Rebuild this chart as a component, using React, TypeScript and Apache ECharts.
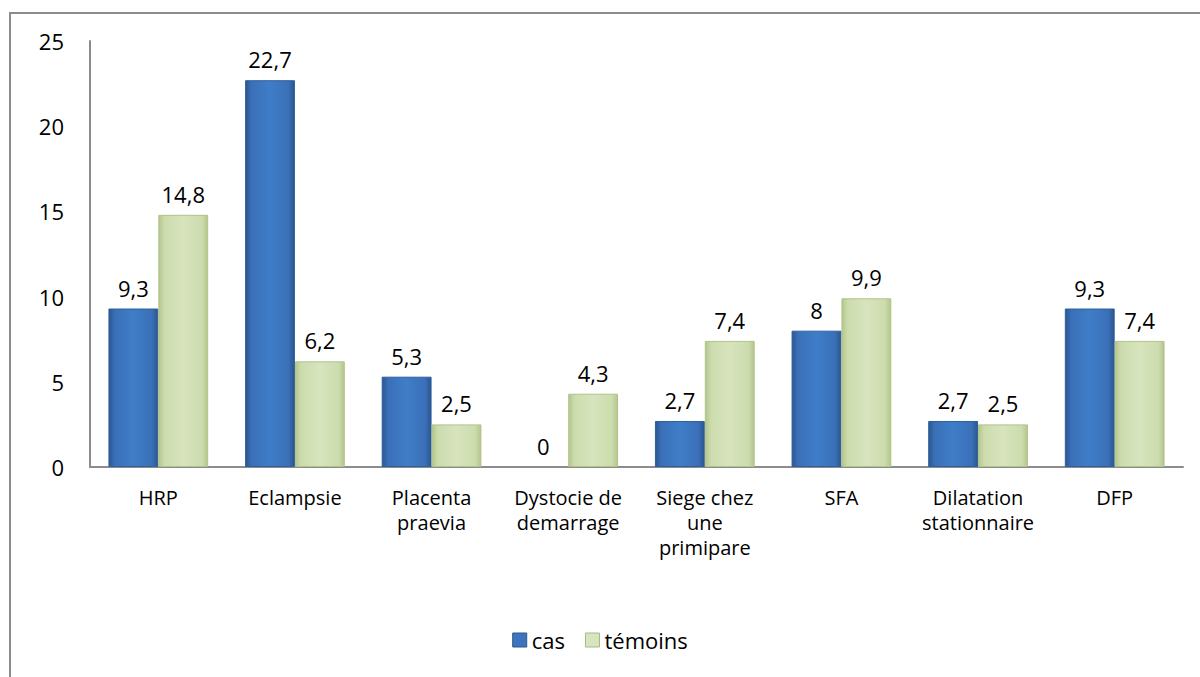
import React, { useEffect, useRef } from "react";
import * as echarts from "echarts";

const categories = [
  "HRP",
  "Eclampsie",
  "Placenta\npraevia",
  "Dystocie de\ndemarrage",
  "Siege chez\nune\nprimipare",
  "SFA",
  "Dilatation\nstationnaire",
  "DFP",
];
const casValues = [9.3, 22.7, 5.3, 0, 2.7, 8, 2.7, 9.3];
const temoinsValues = [14.8, 6.2, 2.5, 4.3, 7.4, 9.9, 2.5, 7.4];
const seriesNames = ["cas", "témoins"];
const yTicks = { min: 0, max: 25, interval: 5 };

const FONT = "'Open Sans', Lato, sans-serif";

const blueGrad = new echarts.graphic.LinearGradient(0, 0, 1, 0, [
  { offset: 0, color: "#2a568f" },
  { offset: 0.12, color: "#3a70b8" },
  { offset: 0.5, color: "#3f7dc8" },
  { offset: 0.88, color: "#3a70b8" },
  { offset: 1, color: "#2a568f" },
]);
const greenGrad = new echarts.graphic.LinearGradient(0, 0, 1, 0, [
  { offset: 0, color: "#b4c68c" },
  { offset: 0.12, color: "#cddcae" },
  { offset: 0.5, color: "#d7e4bd" },
  { offset: 0.88, color: "#cddcae" },
  { offset: 1, color: "#b4c68c" },
]);

const fmt = (p: any) => String(p.value).replace(".", ",");
const withZero = (arr: number[]) =>
  arr.map((v) =>
    v === 0 ? { value: v, itemStyle: { borderWidth: 0, color: "rgba(0,0,0,0)" } } : v
  );

const labelStyle = {
  show: true,
  position: "top",
  distance: 10,
  fontSize: 22,
  color: "#000",
  fontFamily: FONT,
  formatter: fmt,
};

export default function App() {
  const ref = useRef<HTMLDivElement>(null);
  useEffect(() => {
    document.body.style.margin = "0";
    const chart = echarts.init(ref.current!, null, { renderer: "svg" });
    chart.setOption({
      animation: false,
      backgroundColor: "#ffffff",
      textStyle: { fontFamily: FONT },
      graphic: [
        {
          type: "rect",
          shape: { x: 10, y: 13, width: 1300, height: 800 },
          style: { fill: "none", stroke: "#8c8c8c", lineWidth: 2 },
          silent: true,
        },
      ],
      grid: { left: 90, right: 17, top: 41, bottom: 210, containLabel: false },
      legend: {
        bottom: 21,
        left: "center",
        itemWidth: 14,
        itemHeight: 14,
        itemGap: 20,
        icon: "rect",
        textStyle: { fontSize: 22, color: "#000", fontFamily: FONT },
        data: [
          { name: seriesNames[0], itemStyle: { color: "#3c74bd", borderColor: "#2a568f", borderWidth: 1 } },
          { name: seriesNames[1], itemStyle: { color: "#d7e4bd", borderColor: "#a8b883", borderWidth: 1 } },
        ],
      },
      xAxis: {
        type: "category",
        data: categories,
        axisLine: { lineStyle: { color: "#8c8c8c", width: 2 } },
        axisTick: { show: false },
        axisLabel: {
          color: "#000",
          fontSize: 20,
          lineHeight: 25,
          margin: 18,
          interval: 0,
          fontFamily: FONT,
        },
      },
      yAxis: {
        type: "value",
        min: yTicks.min,
        max: yTicks.max,
        interval: yTicks.interval,
        splitLine: { show: false },
        axisLine: { show: true, lineStyle: { color: "#8c8c8c", width: 2 } },
        axisTick: { show: false },
        axisLabel: { color: "#000", fontSize: 22, margin: 26, fontFamily: FONT },
      },
      series: [
        {
          name: seriesNames[0],
          type: "bar",
          data: withZero(casValues),
          barGap: "0%",
          barCategoryGap: "27%",
          itemStyle: { color: blueGrad, borderColor: "#2f5f9c", borderWidth: 1 },
          label: labelStyle,
        },
        {
          name: seriesNames[1],
          type: "bar",
          data: withZero(temoinsValues),
          itemStyle: { color: greenGrad, borderColor: "#b0c288", borderWidth: 1 },
          label: labelStyle,
        },
      ],
    });
    return () => chart.dispose();
  }, []);
  return <div ref={ref} style={{ width: 1200, height: 677 }} />;
}
